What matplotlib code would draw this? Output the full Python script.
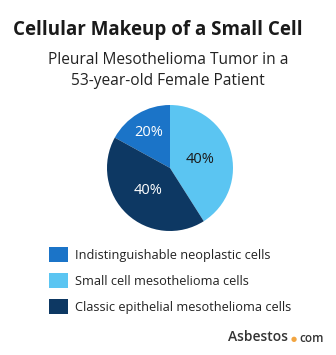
import matplotlib.pyplot as plt
from matplotlib.patches import Patch
import numpy as np

# data
categories = ['Indistinguishable neoplastic cells',
              'Small cell mesothelioma cells',
              'Classic epithelial mesothelioma cells']
shares = [17, 41, 42]                  # wedge sizes as drawn
pct_labels = ['20%', '40%', '40%']      # labels printed on the wedges
colors = ['#1b74c8', '#5bc5f2', '#0d3863']
label_colors = ['white', '#1a1a1a', 'white']
label_dist = [0.65, 0.5, 0.5]

plt.rcParams['font.family'] = ['Open Sans', 'DejaVu Sans']

W, H = 336, 355
fig = plt.figure(figsize=(W / 100, H / 100), dpi=100)
fig.patch.set_facecolor('white')

def fx(px):
    return px / W

def fy(py):
    return 1 - py / H

# titles
fig.text(fx(13), fy(30), 'Cellular Makeup of a Small Cell', fontsize=13.5,
         fontweight='bold', color='#1a1a1a', ha='left', va='center')
fig.text(fx(168), fy(60), 'Pleural Mesothelioma Tumor in a', fontsize=11.2,
         color='#222222', ha='center', va='center')
fig.text(fx(168), fy(81), '53-year-old Female Patient', fontsize=11.2,
         color='#222222', ha='center', va='center')

# pie
cx, cy, r = 170, 168, 63
ax = fig.add_axes([fx(cx - r), fy(cy + r), 2 * r / W, 2 * r / H])
start = 90 + shares[0] / sum(shares) * 360
wedges, _ = ax.pie(shares, colors=colors, startangle=start, counterclock=False,
                   radius=1, wedgeprops=dict(linewidth=0))
ax.set_xlim(-1, 1)
ax.set_ylim(-1, 1)
ax.set_aspect('auto')
ax.axis('off')

for w, lab, c, d in zip(wedges, pct_labels, label_colors, label_dist):
    mid = np.deg2rad((w.theta1 + w.theta2) / 2)
    ax.text(d * np.cos(mid), d * np.sin(mid), lab, ha='center', va='center',
            fontsize=10.5, color=c)

# legend
handles = [Patch(facecolor=c, edgecolor='none') for c in colors]
fig.legend(handles, categories, loc='upper left',
           bbox_to_anchor=(fx(44), fy(242)), frameon=False, fontsize=9.2,
           handlelength=1.45, handleheight=1.45, handletextpad=0.55,
           labelspacing=0.85, labelcolor='#222222', borderaxespad=0)

# logo
fig.text(fx(288), fy(337), 'Asbestos', fontsize=10, fontweight='semibold',
         color='#333333', ha='right', va='center')
fig.text(fx(294), fy(340), '●', fontsize=5, color='#f2a541',
         ha='center', va='center')
fig.text(fx(299), fy(338), 'com', fontsize=8.5, fontweight='semibold',
         color='#333333', ha='left', va='center')

fig.savefig('out.png', dpi=100)
